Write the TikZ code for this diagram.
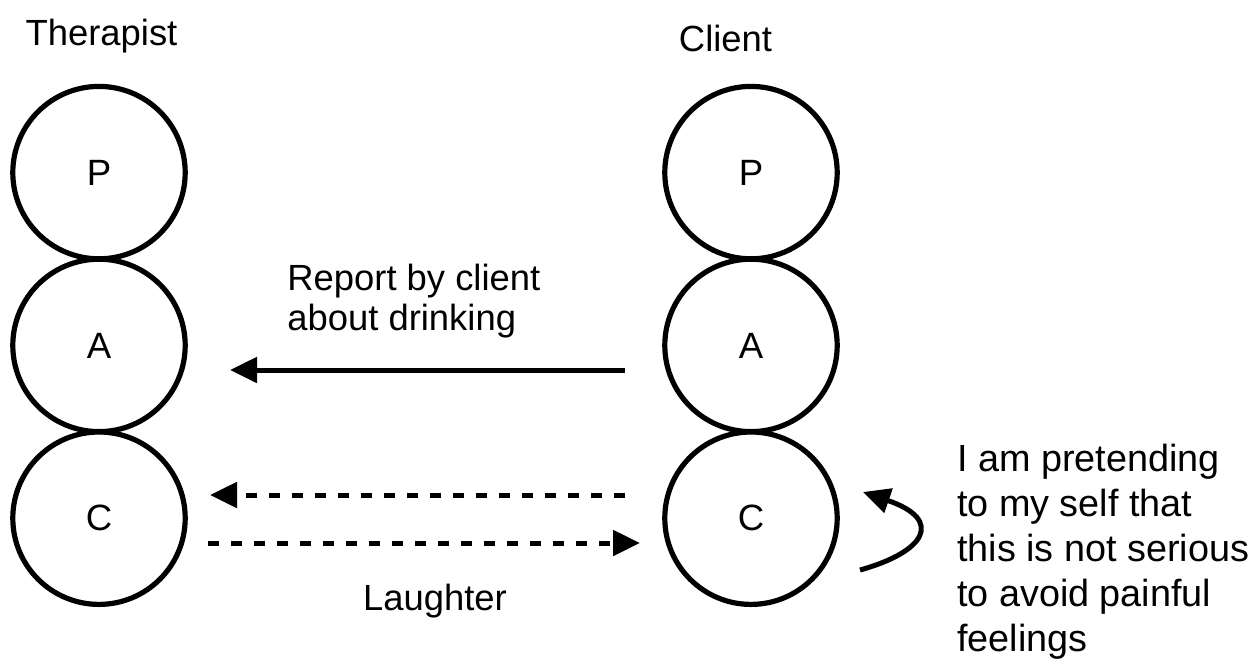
\documentclass[tikz,border=0pt]{standalone}
\usepackage{fontspec}
\setmainfont{Liberation Sans}
\usetikzlibrary{arrows.meta}
\begin{document}
\begin{tikzpicture}[x=0.5pt,y=-0.5pt,
  ego/.style={circle,draw,line width=2.6pt,minimum size=86.2pt,inner sep=0pt,
              font=\fontsize{18.3pt}{20pt}\selectfont},
  lbl/.style={inner sep=0pt,font=\fontsize{18.2pt}{20pt}\selectfont},
  note/.style={inner sep=0pt,align=left,font=\fontsize{18.9pt}{22.5pt}\selectfont},
  flow/.style={line width=2.5pt,-{Triangle[length=13.5pt,width=12.5pt]}},
  dashflow/.style={flow,dash pattern=on 5.5pt off 6pt}]
\useasboundingbox (0,0) rectangle (1260,666);

% ego states of the therapist
\node[ego] (tP) at (99,172.6) {P};
\node[ego] (tA) at (99,345.4) {A};
\node[ego] (tC) at (99,518.2) {C};
% ego states of the client
\node[ego] (cP) at (751,172.6) {P};
\node[ego] (cA) at (751,345.4) {A};
\node[ego] (cC) at (751,518.2) {C};

% headings
\node[lbl,anchor=base] (ther) at (101.5,45) {Therapist};
\node[lbl,anchor=base] (cli) at (725.5,51) {Client};

% transaction labels (multi-line nodes are anchored on their last baseline)
\node[lbl,anchor=base west,align=left] (rep) at (287,330) {Report by client\\about drinking};
\node[lbl,anchor=base] (laugh) at (435,610) {Laughter};
\node[note,anchor=base west] (self) at (956.7,651.7)
  {I am pretending\\to my self that\\this is not serious\\to avoid painful\\feelings};

% arrow end points
\coordinate (repS) at (625,370);   \coordinate (repE) at (230,370);
\coordinate (upS)  at (625,495);   \coordinate (upE)  at (210,495);
\coordinate (dnS)  at (208,543);   \coordinate (dnE)  at (640,543);
\coordinate (loopS) at (860,570);  \coordinate (loopE) at (863,492);

% transactions
\draw[flow] (repS) -- (repE);
\draw[dashflow] (upS) -- (upE);
\draw[dashflow] (dnS) -- (dnE);
\draw[flow] (loopS) .. controls (925,552) and (945,520) .. (loopE);
\end{tikzpicture}
\end{document}
